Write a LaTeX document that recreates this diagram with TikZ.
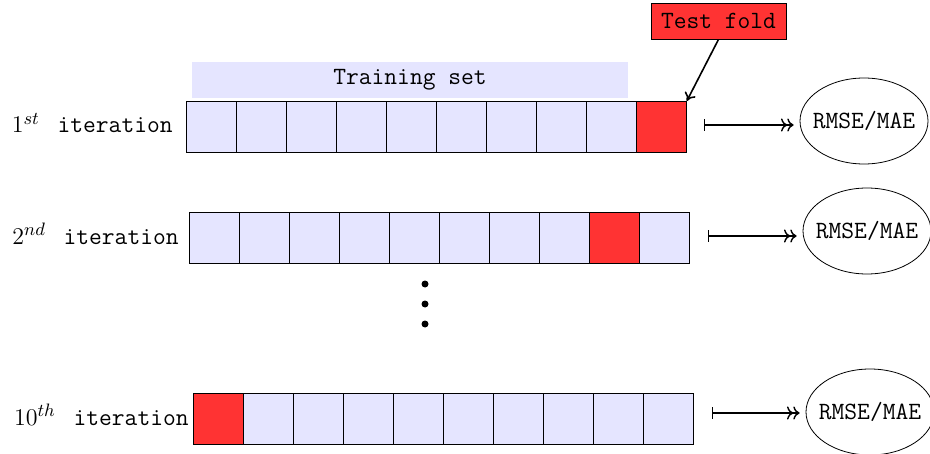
\documentclass[tikz,border=0pt]{standalone}
\usetikzlibrary{shapes.geometric,arrows.meta}
\begin{document}
\begin{tikzpicture}[x=0.5pt,y=-0.5pt,
  txt/.style={font=\fontsize{12.4}{14}\selectfont\ttfamily},
  cell/.style={draw=black,fill=blue!10,minimum width=25pt,minimum height=25.5pt,inner sep=0pt,anchor=north west},
  testcell/.style={cell,fill=red!80},
  res/.style={ellipse,draw=black,txt,inner xsep=-12pt,inner ysep=0pt,minimum width=64pt,minimum height=43pt},
  maparrow/.style={|->>,line width=0.7pt},
  rowlabel/.style={txt,anchor=east,inner sep=0pt}]
\useasboundingbox (0,0) rectangle (930,454);
% training set banner
\node[fill=blue!10,minimum width=218pt,minimum height=18pt,inner sep=0pt,txt] (train) at (410,80) {Training set};
% test fold label
\node[draw=black,fill=red!80,minimum width=67.5pt,minimum height=18pt,inner sep=0pt,txt] (tf) at (718.5,21) {Test fold};
% row 1
\foreach \i in {0,...,9}{
  \ifnum\i=9 \node[testcell] (ra\i) at (186+50*\i,101) {};
  \else \node[cell] (ra\i) at (186+50*\i,101) {}; \fi
}
% row 2
\foreach \i in {0,...,9}{
  \ifnum\i=8 \node[testcell] (rb\i) at (189+50*\i,212) {};
  \else \node[cell] (rb\i) at (189+50*\i,212) {}; \fi
}
% row 3
\foreach \i in {0,...,9}{
  \ifnum\i=0 \node[testcell] (rc\i) at (193+50*\i,393) {};
  \else \node[cell] (rc\i) at (193+50*\i,393) {}; \fi
}
% labels
\node[rowlabel] (la) at (173,123) {$1^{st}$\hspace{2.5pt} iteration};
\node[rowlabel] (lb) at (179,234) {$2^{nd}$\hspace{2.5pt} iteration};
\node[rowlabel] (lc) at (189,415) {$10^{th}$\hspace{2.5pt} iteration};
% arrow test fold
\draw[-{To[length=4pt,width=6pt]},line width=0.8pt] (tf.south) -- (ra9.north east);
% results
\node[res] (ea) at (864,121) {RMSE/MAE};
\node[res] (eb) at (867,231) {RMSE/MAE};
\node[res] (ec) at (870,412) {RMSE/MAE};
\coordinate (sa) at (704,125);
\coordinate (sb) at (708,236);
\coordinate (sc) at (712,413);
\draw[maparrow,shorten >=3pt] (sa) -- (sa -| ea.west);
\draw[maparrow,shorten >=3pt] (sb) -- (sb -| eb.west);
\draw[maparrow,shorten >=3pt] (sc) -- (sc -| ec.west);
% dots
\foreach \y in {284,304,324} \fill (425,\y) circle[radius=1.75pt];
\end{tikzpicture}
\end{document}
